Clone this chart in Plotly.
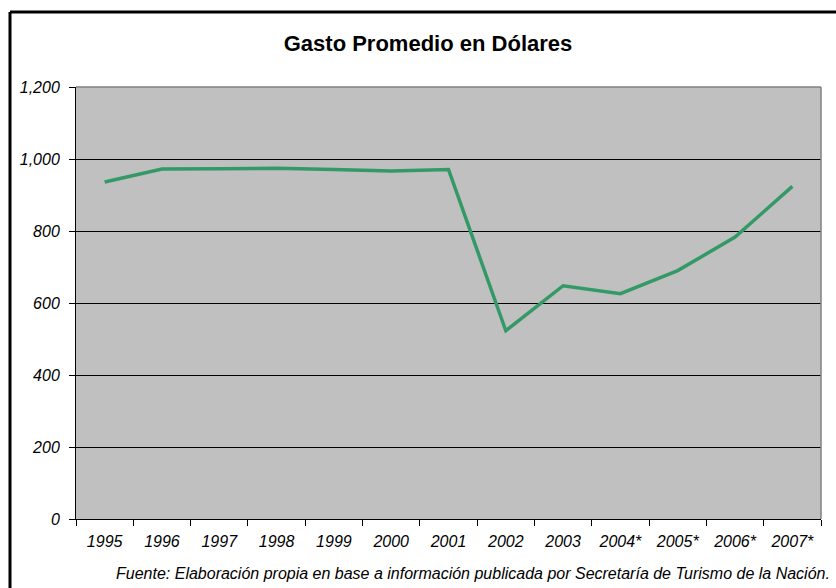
import plotly.graph_objects as go

# Average tourist spending in US dollars per year (* = provisional)
years = ["1995", "1996", "1997", "1998", "1999", "2000", "2001",
         "2002", "2003", "2004*", "2005*", "2006*", "2007*"]
gasto = [936, 972, 973, 974, 971, 967, 971, 523, 648, 626, 690, 783, 924]

y_ticks = [0, 200, 400, 600, 800, 1000, 1200]
y_labels = ["0", "200", "400", "600", "800", "1,000", "1,200"]

title = "<b>Gasto Promedio en Dólares</b>"
source = "Fuente: Elaboración propia en base a información publicada por Secretaría de Turismo de la Nación."

FONT = "Liberation Sans, Arial, sans-serif"
W, H = 836, 588
L, R, T, B = 76, 15, 87, 69

fig = go.Figure()
fig.add_trace(go.Scatter(
    x=years, y=gasto, mode="lines",
    line=dict(color="#339966", width=3.5),
    hoverinfo="x+y", showlegend=False,
))

pw = W - L - R
ph = H - T - B

fig.update_layout(
    width=W, height=H,
    margin=dict(l=L, r=R, t=T, b=B, pad=0, autoexpand=False),
    paper_bgcolor="white",
    plot_bgcolor="#C0C0C0",
    font=dict(family=FONT, color="black"),
    title=dict(text=title, x=428 / W, xanchor="center",
               y=1 - 43 / H, yanchor="middle",
               font=dict(size=22, family=FONT, color="black")),
    xaxis=dict(
        type="category", tickson="boundaries", range=[-0.5, len(years) - 0.5],
        showgrid=False, showline=True, linecolor="black", linewidth=1,
        ticks="outside", ticklen=6, tickcolor="black", tickwidth=1,
        tickfont=dict(size=16, family=FONT, style="italic"),
        ticklabelstandoff=8,
        tickangle=0, automargin=False, fixedrange=True,
    ),
    yaxis=dict(
        range=[0, 1200], tickvals=y_ticks, ticktext=y_labels,
        showgrid=True, gridcolor="black", gridwidth=1,
        showline=True, linecolor="black", linewidth=1,
        ticks="outside", ticklen=6, tickcolor="black", tickwidth=1,
        tickfont=dict(size=16, family=FONT, style="italic"),
        ticklabelstandoff=6,
        zeroline=False, automargin=False, fixedrange=True,
    ),
    annotations=[dict(
        text=source, xref="paper", yref="paper",
        x=(832 - L) / pw, y=-(573 - (T + ph)) / ph,
        xanchor="right", yanchor="middle", showarrow=False,
        font=dict(size=16, family=FONT, style="italic", color="black"),
    )],
    shapes=[
        # plot-area frame on the top and right sides
        dict(type="line", xref="paper", yref="paper", x0=0, x1=1, y0=1, y1=1,
             line=dict(color="#808080", width=1.5), layer="above"),
        dict(type="line", xref="paper", yref="paper", x0=1, x1=1, y0=0, y1=1,
             line=dict(color="#808080", width=1.5), layer="above"),
        # outer chart border (left and top)
        dict(type="line", xref="paper", yref="paper",
             x0=(10 - L) / pw, x1=(10 - L) / pw,
             y0=(T + ph - 12) / ph, y1=-(H + 10 - (T + ph)) / ph,
             line=dict(color="black", width=3)),
        dict(type="line", xref="paper", yref="paper",
             x0=(10 - L) / pw, x1=(W + 10 - L) / pw,
             y0=(T + ph - 12) / ph, y1=(T + ph - 12) / ph,
             line=dict(color="black", width=3)),
    ],
)

fig.write_html("out.html")
